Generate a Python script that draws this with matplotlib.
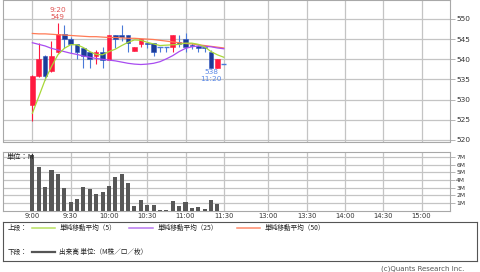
import matplotlib
matplotlib.use("Agg")
import matplotlib.pyplot as plt
from matplotlib.lines import Line2D

# ---------------- data ----------------
times = ["9:00", "9:05", "9:10", "9:15", "9:20", "9:25", "9:30", "9:35", "9:40", "9:45",
         "9:50", "9:55", "10:00", "10:05", "10:10", "10:15", "10:20", "10:25", "10:30", "10:35",
         "10:40", "10:45", "10:50", "10:55", "11:00", "11:05", "11:10", "11:15", "11:20", "11:25",
         "11:30"]
opens = [528.7, 535.9, 540.8, 537.1, 541.7, 546.2, 545.0, 543.8, 542.9, 541.9,
         540.8, 541.9, 539.8, 546.0, 546.0, 546.0, 542.0, 543.8, 544.1, 544.0,
         543.1, 543.1, 543.1, 544.2, 545.0, 543.6, 543.4, 543.1, 541.9, 537.8,
         538.8]
highs = [536.0, 544.0, 541.0, 544.5, 549.0, 548.5, 545.5, 543.8, 542.9, 541.9,
         542.3, 543.1, 546.0, 546.0, 548.5, 546.0, 543.0, 545.0, 544.1, 544.0,
         543.1, 543.1, 546.0, 546.0, 546.4, 544.0, 543.6, 543.1, 542.3, 540.0,
         538.8]
lows = [524.8, 535.5, 534.9, 536.8, 541.5, 542.7, 541.5, 540.0, 537.8, 537.8,
        538.8, 537.8, 539.8, 542.7, 544.5, 541.7, 542.0, 543.0, 542.7, 540.8,
        541.9, 541.9, 541.9, 543.1, 541.9, 542.5, 541.9, 541.9, 537.8, 537.8,
        538.8]
closes = [535.9, 540.0, 535.9, 540.8, 546.2, 545.0, 543.8, 541.7, 540.7, 540.0,
          541.9, 539.8, 546.0, 545.0, 545.6, 544.0, 543.0, 545.0, 543.8, 541.9,
          543.1, 543.1, 546.0, 543.8, 543.0, 543.2, 542.9, 542.8, 537.8, 540.0,
          538.8]
ma5 = [526.6, 530.7, 534.9, 538.2, 541.1, 542.7, 543.6, 543.6, 542.9, 541.9,
       541.2, 541.1, 541.9, 542.5, 543.4, 544.2, 544.8, 544.7, 544.2, 543.8,
       543.4, 543.5, 543.6, 543.7, 544.0, 544.0, 543.7, 543.1, 541.9, 541.1,
       540.5]
ma25 = [544.1, 543.7, 543.3, 542.7, 542.3, 541.9, 541.5, 541.2, 540.8, 540.5,
        540.2, 540.0, 539.8, 539.6, 539.3, 539.0, 538.8, 538.7, 538.8, 539.0,
        539.4, 540.1, 540.9, 541.9, 542.7, 543.1, 543.3, 543.2, 543.1, 542.8,
        542.6]
ma50 = [546.4, 546.3, 546.3, 546.2, 546.1, 546.0, 545.9, 545.8, 545.7, 545.6,
        545.6, 545.5, 545.4, 545.4, 545.3, 545.2, 545.2, 545.1, 545.0, 544.9,
        544.7, 544.5, 544.3, 544.1, 543.9, 543.8, 543.6, 543.4, 543.2, 543.0,
        542.8]
volumes = [7.3, 5.74, 3.09, 5.26, 4.78, 3.0, 1.17, 1.52, 3.09, 2.87,
           2.13, 2.48, 3.22, 4.43, 4.78, 3.65, 0.61, 1.39, 0.74, 0.74,
           0.05, 0.05, 1.3, 0.61, 1.13, 0.35, 0.48, 0.26, 1.39, 0.91,
           0.0]
tick_labels = ["9:00", "9:30", "10:00", "10:30", "11:00", "11:30",
               "13:00", "13:30", "14:00", "14:30", "15:00"]
price_ticks = [520, 525, 530, 535, 540, 545, 550]
vol_ticks = [1, 2, 3, 4, 5, 6, 7]
vol_tick_labels = ["1M", "2M", "3M", "4M", "5M", "6M", "7M"]
high_label = ("9:20", 549)
low_label = ("11:20", 538)


def slot(t):
    h, m = map(int, t.split(":"))
    mins = h * 60 + m
    if mins <= 11 * 60 + 30:
        return (mins - 540) / 5
    return 37 + (mins - 780) / 5


xs = [slot(t) for t in times]
xticks = [slot(t) for t in tick_labels]
XLIM = (-4.6, 65.45)

W, H = 480, 272
fig = plt.figure(figsize=(W / 100, H / 100), dpi=100)


def rect(l, t, r, b):
    return [l / W, 1 - b / H, (r - l) / W, (b - t) / H]


GRID = "#c4c4c4"
FRAME = "#a8a8a8"
TXT = "#333333"

# ---------------- price panel ----------------
ax = fig.add_axes(rect(3, 0, 450, 141.5))
ax.set_xlim(*XLIM)
ax.set_ylim(519.6, 554.7)
ax.set_xticks(xticks)
ax.set_yticks(price_ticks)
ax.grid(True, color=GRID, lw=0.9)
ax.set_axisbelow(True)
ax.tick_params(axis="x", length=0, labelbottom=False)
ax.yaxis.tick_right()
ax.tick_params(axis="y", length=3.5, width=0.6, color=FRAME, labelsize=5.3,
               labelcolor=TXT, pad=1)
for s in ax.spines.values():
    s.set_color(FRAME)
    s.set_linewidth(0.8)

RED = "#ff1a40"
NAVY = "#1c3c98"
BLUE_WICK = "#4a7ad8"
for x, o, h, l, c in zip(xs, opens, highs, lows, closes):
    up = c > o
    wick = RED if up else BLUE_WICK
    ax.vlines(x, l, h, color=wick, lw=0.8, zorder=3)
    if c != o:
        ax.bar(x, abs(c - o), bottom=min(o, c), width=0.72,
               color=RED if up else NAVY,
               edgecolor=RED if up else "#2a52c0", lw=0.4, zorder=4)
    else:
        ax.hlines(o, x - 0.4, x + 0.4, color=BLUE_WICK, lw=1.0, zorder=4)

ax.plot(xs, ma50, color="#ff7a55", lw=0.9, zorder=5)
ax.plot(xs, ma25, color="#a84cf0", lw=0.9, zorder=5)
ax.plot(xs, ma5, color="#a8d838", lw=0.9, zorder=6)

ax.annotate(f"{high_label[0]}\n{high_label[1]}", (slot(high_label[0]), high_label[1]),
            xytext=(0, 2.5), textcoords="offset points", ha="center", va="bottom",
            color="#e05555", fontsize=5.3, linespacing=1.15)
ax.annotate(f"{low_label[1]}\n{low_label[0]}", (slot(low_label[0]), low_label[1]),
            xytext=(0, -1.2), textcoords="offset points", ha="center", va="top",
            color="#5a88e6", fontsize=5.3, linespacing=1.15)

# ---------------- volume panel ----------------
axv = fig.add_axes(rect(3, 152.3, 450, 210.7))
axv.set_xlim(*XLIM)
axv.set_ylim(0, 7.61)
axv.set_xticks(xticks)
axv.set_xticklabels(tick_labels)
axv.set_yticks(vol_ticks)
axv.set_yticklabels(vol_tick_labels)
axv.grid(True, color=GRID, lw=0.9)
axv.set_axisbelow(True)
axv.yaxis.tick_right()
axv.tick_params(axis="y", length=3.5, width=0.6, color=FRAME, labelsize=4.3,
                labelcolor=TXT, pad=1)
axv.tick_params(axis="x", length=0, labelsize=4.9, labelcolor=TXT, pad=1.8)
for s in axv.spines.values():
    s.set_color(FRAME)
    s.set_linewidth(0.8)
axv.bar(xs, volumes, width=0.64, color="#575757", zorder=3)

CJK = ["Noto Sans CJK JP", "DejaVu Sans"]
axv.text(0.008, 0.92, "単位：M", transform=axv.transAxes, ha="left", va="center",
         fontsize=5.2, color="#222222", zorder=6, family=CJK)

# ---------------- legend box ----------------
axl = fig.add_axes(rect(3, 222, 477, 261))
axl.set_xlim(0, 474)
axl.set_ylim(39, 0)
axl.set_xticks([])
axl.set_yticks([])
for s in axl.spines.values():
    s.set_color("#555555")
    s.set_linewidth(0.8)

LFS = 4.8
row1, row2 = 5.5, 30.3
axl.text(5, row1, "上段：", fontsize=LFS, va="center", ha="left", color="#222222", family=CJK)
axl.text(5, row2, "下段：", fontsize=LFS, va="center", ha="left", color="#222222", family=CJK)
legend_items = [
    (29, 52, "#b8e060", "単純移動平均（5）", row1, 1.1),
    (126, 150, "#b878f0", "単純移動平均（25）", row1, 1.1),
    (234, 257, "#ff8a6a", "単純移動平均（50）", row1, 1.1),
    (29, 52, "#555555", "出来高 単位:（M株／口／枚）", row2, 1.6),
]
for x0, x1, col, lab, yy, lw in legend_items:
    axl.add_line(Line2D([x0, x1], [yy, yy], color=col, lw=lw))
    axl.text(x1 + 4.3, yy, lab, fontsize=LFS, va="center", ha="left",
             color="#222222", family=CJK)

fig.text(464 / W, 1 - 269 / H, "(c)Quants Research Inc.", fontsize=5.0,
         color="#555555", ha="right", va="center")

fig.savefig("out.png", dpi=100)
